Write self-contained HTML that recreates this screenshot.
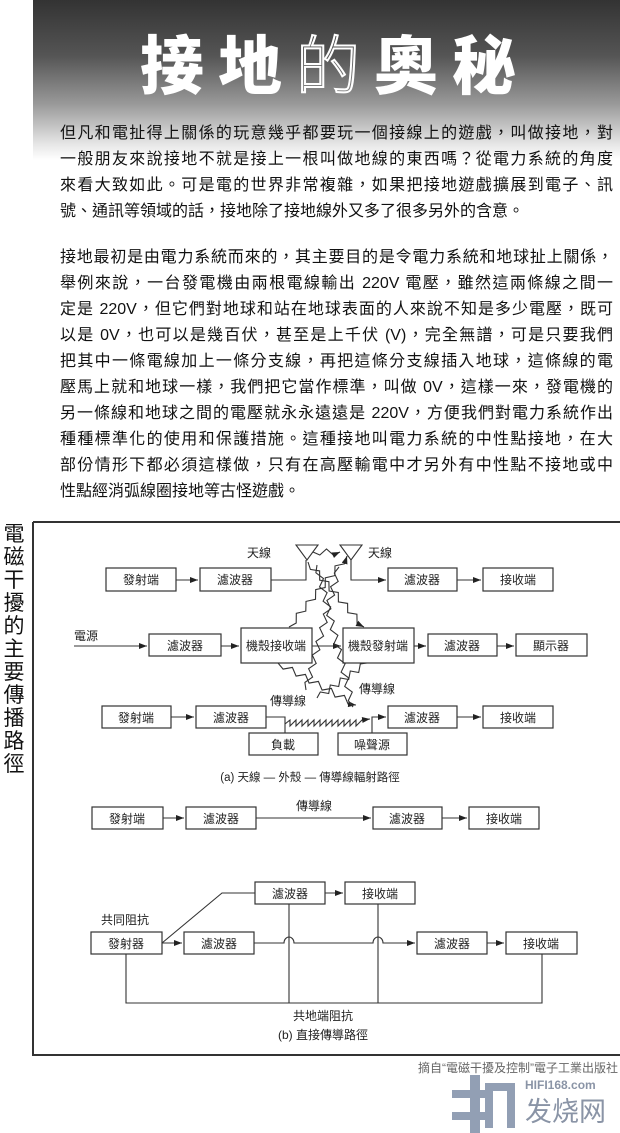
<!DOCTYPE html>
<html><head><meta charset="utf-8">
<style>
body{margin:0;width:620px;height:1133px;background:#fff;position:relative;overflow:hidden;font-family:"Liberation Sans","Noto Sans CJK TC",sans-serif;}
.hdr{position:absolute;left:33px;top:0;width:587px;height:160px;background:linear-gradient(#333 0%,#555 35%,#999 65%,#e6e6e6 90%,#fff 100%);}
.title{position:absolute;left:0;top:22px;width:620px;text-align:center;padding-left:50px;box-sizing:border-box;font-family:"Noto Sans CJK TC",sans-serif;font-weight:900;font-size:64px;color:#fff;letter-spacing:14px;line-height:80px;}
.title .o{font-weight:300;color:transparent;-webkit-text-stroke:2px #fff;}
.p{position:absolute;left:60px;width:553px;font-size:16px;line-height:26px;color:#111;font-family:"Liberation Sans","Noto Sans CJK TC",sans-serif;}
.p div{text-align:justify;text-align-last:justify;height:26px;}
.p div.l{text-align-last:left;}
.vt{position:absolute;left:2px;top:522px;width:24px;font-size:21px;line-height:23px;text-align:center;font-family:"Noto Sans CJK TC",sans-serif;color:#111;}
svg{position:absolute;left:0;top:0;}
</style></head><body>
<div class="hdr"></div>
<div class="title">接地<span class="o">的</span>奧秘</div>
<div class="p" style="top:121px">
<div>但凡和電扯得上關係的玩意幾乎都要玩一個接線上的遊戲，叫做接地，對</div>
<div>一般朋友來說接地不就是接上一根叫做地線的東西嗎？從電力系統的角度</div>
<div>來看大致如此。可是電的世界非常複雜，如果把接地遊戲擴展到電子、訊</div>
<div class="l">號、通訊等領域的話，接地除了接地線外又多了很多另外的含意。</div>
</div>
<div class="p" style="top:245px">
<div>接地最初是由電力系統而來的，其主要目的是令電力系統和地球扯上關係，</div>
<div>舉例來說，一台發電機由兩根電線輸出 220V 電壓，雖然這兩條線之間一</div>
<div>定是 220V，但它們對地球和站在地球表面的人來說不知是多少電壓，既可</div>
<div>以是 0V，也可以是幾百伏，甚至是上千伏 (V)，完全無譜，可是只要我們</div>
<div>把其中一條電線加上一條分支線，再把這條分支線插入地球，這條線的電</div>
<div>壓馬上就和地球一樣，我們把它當作標準，叫做 0V，這樣一來，發電機的</div>
<div>另一條線和地球之間的電壓就永永遠遠是 220V，方便我們對電力系統作出</div>
<div>種種標準化的使用和保護措施。這種接地叫電力系統的中性點接地，在大</div>
<div>部份情形下都必須這樣做，只有在高壓輸電中才另外有中性點不接地或中</div>
<div class="l">性點經消弧線圈接地等古怪遊戲。</div>
</div>
<div class="vt">電<br>磁<br>干<br>擾<br>的<br>主<br>要<br>傳<br>播<br>路<br>徑</div>

<svg width="620" height="1133" viewBox="0 0 620 1133" font-family="Liberation Sans, Noto Sans CJK TC, sans-serif">
<defs><marker id="a" markerWidth="8" markerHeight="6" refX="8" refY="3" orient="auto" markerUnits="userSpaceOnUse"><path d="M0,0L8,3L0,6z" fill="#222"/></marker></defs>
<g stroke="#333" stroke-width="1.5" fill="none">
<path d="M33,522H620M33,522V1055H620" stroke-width="2"/>
</g>
<g stroke="#333" stroke-width="1.2" fill="#fff">
<!-- row1 -->
<rect x="106" y="568" width="70" height="23"/><rect x="200" y="568" width="71" height="23"/>
<rect x="388" y="568" width="69" height="23"/><rect x="483" y="568" width="70" height="23"/>
<!-- row2 -->
<rect x="149" y="634" width="72" height="22"/><rect x="241" y="628" width="71" height="35"/>
<rect x="343" y="628" width="71" height="35"/><rect x="428" y="634" width="69" height="22"/>
<rect x="516" y="634" width="71" height="22"/>
<!-- row3 -->
<rect x="102" y="706" width="69" height="22"/><rect x="196" y="706" width="70" height="22"/>
<rect x="388" y="706" width="69" height="22"/><rect x="483" y="706" width="70" height="22"/>
<rect x="249" y="733" width="69" height="22"/><rect x="338" y="733" width="69" height="22"/>
<!-- b1 -->
<rect x="92" y="807" width="71" height="22"/><rect x="186" y="807" width="70" height="22"/>
<rect x="373" y="807" width="69" height="22"/><rect x="469" y="807" width="70" height="22"/>
<!-- b2 -->
<rect x="255" y="882" width="70" height="22"/><rect x="345" y="882" width="70" height="22"/>
<rect x="91" y="932" width="71" height="22"/><rect x="184" y="932" width="70" height="22"/>
<rect x="417" y="932" width="70" height="22"/><rect x="506" y="932" width="71" height="22"/>
</g>
<g stroke="#333" stroke-width="1.1" fill="none">
<path d="M296,545H318L307,560Z M340,545H362L351,560Z" fill="#fff"/>
<path d="M176,580H198" marker-end="url(#a)"/>
<path d="M271,580H306V560"/>
<path d="M351,560V580H386" marker-end="url(#a)"/>
<path d="M457,580H481" marker-end="url(#a)"/>
<path d="M74,646H147" marker-end="url(#a)"/>
<path d="M221,646H239" marker-end="url(#a)"/>
<path d="M312,646H341" marker-end="url(#a)"/>
<path d="M414,646H426" marker-end="url(#a)"/>
<path d="M497,646H514" marker-end="url(#a)"/>
<path d="M171,717H194" marker-end="url(#a)"/>
<path d="M266,717H285V733"/>
<path d="M372,733V717H386" marker-end="url(#a)"/>
<path d="M457,717H481" marker-end="url(#a)"/>
<path id="z0" d="M285,724L290,720L290,726L296,720L296,726L302,720L302,726L308,720L308,726L314,720L314,726L320,720L320,726L326,720L326,726L332,720L332,726L338,720L338,726L344,720L344,726L350,720L350,726L356,720L356,726L362,720L370,719" marker-end="url(#a)"/>
<g id="zz"></g>
<!-- b1 -->
<path d="M163,818H184" marker-end="url(#a)"/>
<path d="M256,818H371" marker-end="url(#a)"/>
<path d="M442,818H467" marker-end="url(#a)"/>
<!-- b2 -->
<path d="M162,943L222,893H255"/>
<path d="M325,893H343" marker-end="url(#a)"/>
<path d="M162,943H182" marker-end="url(#a)"/>
<path d="M254,943H284A5,6 0 0 1 294,943H373A5,6 0 0 1 383,943H415" marker-end="url(#a)"/>
<path d="M487,943H504" marker-end="url(#a)"/>
<path d="M289,904V1003M378,904V1003M126,954V1003H542V954"/>
</g>
<g font-size="12" fill="#222" text-anchor="middle">
<text x="141" y="584">發射端</text><text x="235" y="584">濾波器</text><text x="422" y="584">濾波器</text><text x="518" y="584">接收端</text>
<text x="259" y="557">天線</text><text x="380" y="557">天線</text>
<text x="86" y="640">電源</text>
<text x="185" y="650">濾波器</text><text x="276" y="650">機殼接收端</text><text x="378" y="650">機殼發射端</text>
<text x="462" y="650">濾波器</text><text x="551" y="650">顯示器</text>
<text x="136" y="722">發射端</text><text x="231" y="722">濾波器</text><text x="422" y="722">濾波器</text><text x="518" y="722">接收端</text>
<text x="283" y="749">負載</text><text x="372" y="749">噪聲源</text>
<text x="288" y="705">傳導線</text><text x="377" y="693">傳導線</text>
<text x="310" y="781" font-size="11.5">(a) 天線 — 外殼 — 傳導線輻射路徑</text>
<text x="127" y="823">發射端</text><text x="221" y="823">濾波器</text><text x="407" y="823">濾波器</text><text x="504" y="823">接收端</text>
<text x="314" y="810">傳導線</text>
<text x="290" y="898">濾波器</text><text x="380" y="898">接收端</text>
<text x="125" y="924">共同阻抗</text>
<text x="126" y="948">發射器</text><text x="219" y="948">濾波器</text><text x="452" y="948">濾波器</text><text x="541" y="948">接收端</text>
<text x="323" y="1020">共地端阻抗</text>
<text x="323" y="1039">(b) 直接傳導路徑</text>
</g>
<text x="618" y="1072" font-size="12" fill="#666" text-anchor="end">摘自“電磁干擾及控制”電子工業出版社</text>
<g fill="#7f8fa8" opacity="0.85">
<rect x="452" y="1090" width="40" height="8"/><rect x="470" y="1075" width="10" height="58"/><rect x="452" y="1112" width="35" height="8"/>
<rect x="485" y="1083" width="30" height="8"/><rect x="485" y="1083" width="8" height="45"/><rect x="507" y="1083" width="8" height="45"/>
</g>
<text x="525" y="1089" font-size="12" font-weight="bold" fill="#8a94a6">HIFI168.com</text>
<text x="525" y="1121" font-size="27" fill="#8a94a6" font-family="Noto Sans CJK SC, sans-serif">发烧网</text>
</svg>
<script>
(function(){
var g=document.getElementById('zz');
function zig(x1,y1,x2,y2,n,amp,arrow){
 var dx=x2-x1,dy=y2-y1,L=Math.sqrt(dx*dx+dy*dy),ux=dx/L,uy=dy/L,px=-uy,py=ux,pts=[x1+','+y1];
 for(var i=1;i<n;i++){var t=i/n,s=(i%2?1:-1)*amp;pts.push((x1+dx*t+px*s).toFixed(1)+','+(y1+dy*t+py*s).toFixed(1));}
 pts.push(x2+','+y2);
 var p=document.createElementNS('http://www.w3.org/2000/svg','polyline');
 p.setAttribute('points',pts.join(' '));if(arrow)p.setAttribute('marker-end','url(#a)');g.appendChild(p);}
zig(308,562,364,627,12,3,true);
zig(289,627,347,556,12,3,true);
zig(278,663,356,705,12,3,true);
zig(367,663,317,698,10,3,false);
zig(317,565,353,707,20,3,false);
zig(339,567,306,690,18,3,false);
zig(313,552,340,552,4,3,true);
})();
</script>
</body></html>
